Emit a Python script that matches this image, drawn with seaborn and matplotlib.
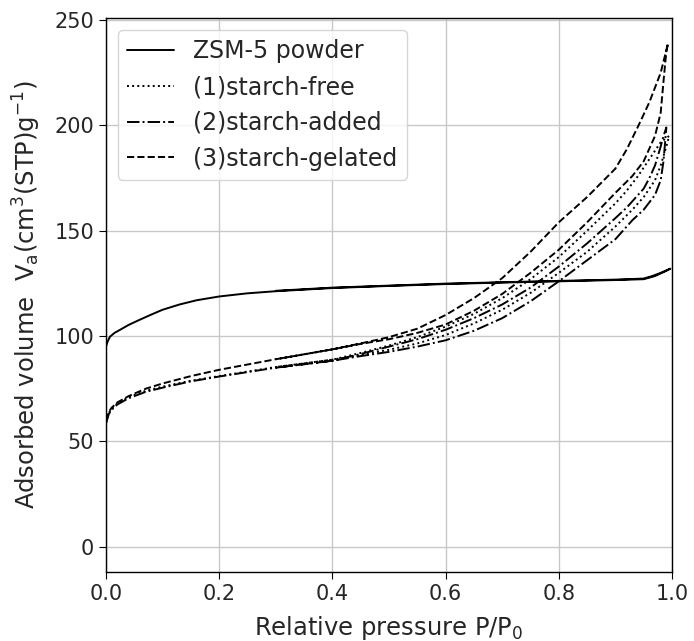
import numpy as np
import pandas as pd
import seaborn as sns
import matplotlib.pyplot as plt

# relative pressure P/P0 and adsorbed volume, adsorption (up) then desorption (down)
zsm_ads_p = [0.0, 0.003, 0.007, 0.015, 0.025, 0.04, 0.06, 0.08, 0.1, 0.13, 0.16, 0.2,
             0.25, 0.3, 0.4, 0.5, 0.6, 0.7, 0.8, 0.9, 0.95, 0.97, 0.99, 0.997]
zsm_ads_v = [95.0, 97.5, 99.7, 101.5, 103.0, 105.3, 107.8, 110.2, 112.5, 115.0, 117.0, 118.8,
             120.3, 121.3, 122.8, 123.8, 124.7, 125.4, 126.0, 126.6, 127.0, 128.5, 131.0, 132.0]
zsm_des_p = [0.997, 0.98, 0.965, 0.95, 0.9, 0.8, 0.6, 0.4, 0.3]
zsm_des_v = [132.0, 130.0, 128.5, 127.3, 126.8, 126.2, 124.9, 123.0, 121.5]

low_p = [0.0, 0.005, 0.01, 0.02, 0.04, 0.07, 0.1, 0.15, 0.2, 0.3, 0.4]
hi_ads_p = [0.45, 0.5, 0.55, 0.6, 0.65, 0.7, 0.75, 0.8, 0.85, 0.9, 0.93, 0.95, 0.97, 0.98]
des_p = [0.9, 0.85, 0.8, 0.75, 0.7, 0.65, 0.6, 0.55, 0.5, 0.45, 0.4, 0.3]

# (1) starch-free
free_low_v = [59.0, 63.5, 65.5, 68.0, 71.0, 74.0, 76.0, 78.8, 81.0, 85.3, 88.8]
free_ads_v = [91.0, 93.5, 96.5, 100.5, 106.0, 112.5, 120.5, 130.0, 140.0, 152.0, 160.0, 166.0, 174.0, 181.0]
free_top_p = [0.99, 0.995, 0.98, 0.96, 0.94, 0.92]
free_top_v = [190.0, 195.0, 192.0, 184.0, 176.0, 169.0]
free_des_v = [163.0, 150.0, 137.5, 127.0, 118.0, 110.5, 104.5, 99.5, 95.5, 92.0, 88.8, 85.3]

# (2) starch-added
added_low_v = [58.5, 63.0, 65.0, 67.5, 70.5, 73.5, 75.5, 78.5, 80.8, 85.0, 88.3]
added_ads_v = [90.5, 92.5, 95.0, 98.0, 102.5, 108.5, 116.5, 126.0, 136.0, 146.0, 155.0, 160.0, 167.0, 174.0]
added_top_p = [0.985, 0.99, 0.985, 0.98, 0.97, 0.96, 0.95, 0.92]
added_top_v = [183.0, 199.0, 195.0, 190.0, 181.0, 175.0, 170.0, 161.0]
added_des_v = [156.0, 144.0, 133.0, 123.0, 115.0, 108.5, 103.0, 98.5, 95.0, 91.5, 88.3, 85.0]

# (3) starch-gelated
gel_low_v = [60.0, 64.0, 66.0, 68.5, 71.5, 75.0, 77.5, 81.0, 84.0, 89.0, 93.7]
gel_ads_v = [96.3, 98.5, 101.5, 105.5, 112.0, 120.0, 130.0, 141.0, 154.0, 168.0, 176.0, 183.0, 195.0, 206.0]
gel_top_p = [0.985, 0.99, 0.993, 0.98, 0.96, 0.94, 0.92]
gel_top_v = [221.0, 235.0, 239.0, 225.0, 211.0, 199.5, 188.6]
gel_des_v = [179.5, 166.0, 154.0, 140.0, 127.5, 118.0, 110.0, 103.5, 99.5, 96.5, 93.7, 89.0]

labels = ['ZSM-5 powder', '(1)starch-free', '(2)starch-added', '(3)starch-gelated']


def loop(low, ads, top_p, top_v, des):
    p = low_p + hi_ads_p + top_p + des_p
    v = low + ads + top_v + des
    return pd.DataFrame({'p': p, 'v': v})


zsm = pd.DataFrame({'p': zsm_ads_p + zsm_des_p, 'v': zsm_ads_v + zsm_des_v})
free = loop(free_low_v, free_ads_v, free_top_p, free_top_v, free_des_v)
added = loop(added_low_v, added_ads_v, added_top_p, added_top_v, added_des_v)
gel = loop(gel_low_v, gel_ads_v, gel_top_p, gel_top_v, gel_des_v)

sns.set_style('ticks')
plt.rcParams['font.family'] = ['DejaVu Sans']

fig = plt.figure(figsize=(6.94, 6.41), dpi=100)
ax = fig.add_axes([106 / 694, 1 - 572 / 641, 566 / 694, 554 / 641])

styles = ['-', ':', '-.', '--']
for df, lab, ls in zip([zsm, free, added, gel], labels, styles):
    sns.lineplot(data=df, x='p', y='v', sort=False, estimator=None, color='k',
                 linestyle=ls, linewidth=1.4, label=lab, ax=ax)

ax.set_xlim(0, 1.0)
ax.set_ylim(-12, 251)
ax.set_xticks(np.arange(0, 1.01, 0.2))
ax.set_yticks(np.arange(0, 251, 50))
ax.grid(True, color='#c8c8c8', linewidth=1.0)
ax.tick_params(labelsize=15, direction='out', length=5, color='k')
for s in ax.spines.values():
    s.set_color('k')
    s.set_linewidth(1.0)

ax.set_xlabel('Relative pressure P/P$_0$', fontsize=17.5, labelpad=7)
ax.set_ylabel('Adsorbed volume  V$_\\mathrm{a}$(cm$^3$(STP)g$^{-1}$)', fontsize=17.5,
              labelpad=8)

ax.legend(loc='upper left', fontsize=17, frameon=True, handlelength=2.0,
          borderaxespad=0.5)

fig.savefig('out.png', dpi=100)
